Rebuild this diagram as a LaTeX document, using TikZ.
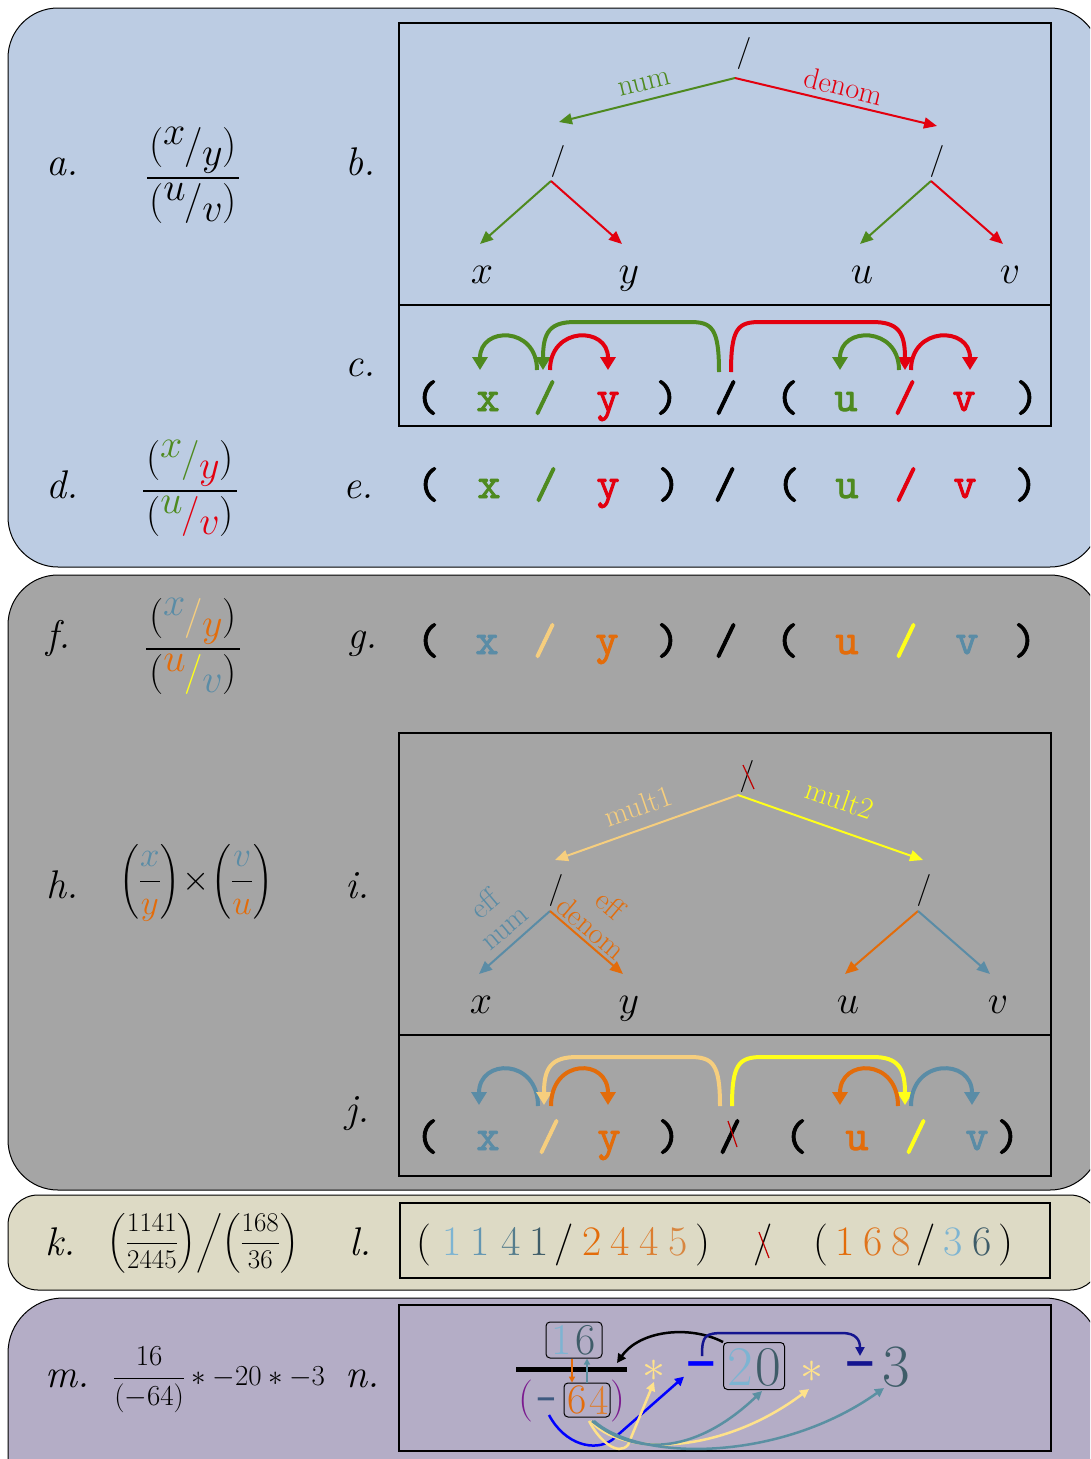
\documentclass[tikz,border=0pt]{standalone}
\usepackage{fix-cm}
\usepackage{amsmath}
\usepackage{fontspec}
\newfontfamily\tokfont{lmmono10-regular.otf}[FakeBold=2]
\newfontfamily\dvfont{DejaVu Sans}
\usetikzlibrary{arrows.meta}
\newcommand\FS[1]{\fontsize{#1}{#1}\selectfont}
\newcommand\NF[3]{\raisebox{.32em}{#1}\kern-.02em#2\kern-.02em\raisebox{-.2em}{#3}}
\definecolor{pblue}{HTML}{BCCCE3}
\definecolor{pgray}{HTML}{A5A5A5}
\definecolor{pbeige}{HTML}{DDDAC5}
\definecolor{plav}{HTML}{B4ADC6}
\definecolor{cgreen}{HTML}{4E8A1F}
\definecolor{cred}{HTML}{E3000F}
\definecolor{cdred}{HTML}{C00000}
\definecolor{cblue}{HTML}{5A8CA6}
\definecolor{clor}{HTML}{F6CE7E}
\definecolor{cor}{HTML}{E36C0A}
\definecolor{cor2}{HTML}{E0741C}
\definecolor{cor3}{HTML}{DC7E30}
\definecolor{cor4}{HTML}{D88640}
\definecolor{cyel}{HTML}{FFFF1A}
\definecolor{clb}{HTML}{7DB4D2}
\definecolor{cmb}{HTML}{6396B2}
\definecolor{csb}{HTML}{557D8D}
\definecolor{cslate}{HTML}{3E5C68}
\definecolor{cpurp}{HTML}{7B1B8F}
\definecolor{cnavy}{HTML}{14148F}
\definecolor{cpyel}{HTML}{FFE28A}
\definecolor{cteal}{HTML}{5A90A2}
\definecolor{cdash}{HTML}{3E5A80}
\begin{document}
\begin{tikzpicture}[x=1pt,y=-1pt,
  panel/.style={draw=black,line width=1pt,rounded corners=50pt},
  ibox/.style={draw=black,line width=1.6pt},
  lab/.style={font=\FS{40}\itshape,anchor=base,inner sep=0pt},
  fm/.style={font=\FS{40},anchor=base,inner sep=0pt},
  tok/.style={font=\FS{44}\tokfont,anchor=base,inner sep=0pt},
  sl/.style={font=\FS{32},inner sep=0pt},
  leaf/.style={font=\FS{40},anchor=base,inner sep=0pt},
  elab/.style={font=\FS{30},inner sep=0pt},
  tar/.style={line width=2pt,-{Triangle[length=13pt,width=11pt]}},
  arcar/.style={line width=4pt,-{Triangle[length=13pt,width=15pt]}},
  ldig/.style={font=\FS{42},anchor=base,inner sep=0pt},
  nbox/.style={draw=black,rounded corners=4pt,line width=1pt,inner sep=0pt},
  nar/.style={line width=2.5pt,-{Triangle[length=9pt,width=9pt]}},
  sar/.style={line width=1.5pt,-{Triangle[length=6pt,width=6pt]}}]
\useasboundingbox (0,0) rectangle (1090,1459);
\clip (0,0) rectangle (1090,1459);
\fill[white] (0,0) rectangle (1090,1459);

% ================= Panel 1 =================
\draw[panel,fill=pblue] (8,8) rectangle (1100,567);
\draw[ibox] (399,23) rectangle (1051,305);
\draw[ibox] (399,305) rectangle (1051,426);
\node[lab] (la) at (62,175) {a.};
\node[lab] (lb) at (360,175) {b.};
\node[lab] (lc) at (360,376) {c.};
\node[lab] (ld) at (62,498) {d.};
\node[lab] (le) at (358,498) {e.};

% formula a
\node[fm] (anum) at (193,157) {(\NF{$x$}{/}{$y$})};
\draw[line width=2pt] (147,178) -- (239,178);
\node[fm] (aden) at (193,213) {(\NF{$u$}{/}{$v$})};

% tree b
\node[sl] (broot) at (744,53) {/};
\coordinate (bj) at (735,78);
\coordinate (bl) at (559,122);
\coordinate (br) at (937,126);
\draw[tar,cgreen] (bj) -- (bl);
\draw[tar,cred] (bj) -- (br);
\node[elab,text=cgreen,rotate=14] (bnum) at (645,84) {num};
\node[elab,text=cred,rotate=-14] (bden) at (844,86) {denom};
\node[sl] (bm1) at (558,161) {/};
\node[sl] (bm2) at (937,161) {/};
\coordinate (bj1) at (551,181);
\coordinate (bj2) at (931,181);
\coordinate (bt1) at (480,244);
\coordinate (bt2) at (622,244);
\coordinate (bt3) at (860,244);
\coordinate (bt4) at (1003,244);
\draw[tar,cgreen] (bj1) -- (bt1);
\draw[tar,cred] (bj1) -- (bt2);
\draw[tar,cgreen] (bj2) -- (bt3);
\draw[tar,cred] (bj2) -- (bt4);
\node[leaf] (bx) at (482,283) {$x$};
\node[leaf] (by) at (629,283) {$y$};
\node[leaf] (bu) at (862,283) {$u$};
\node[leaf] (bv) at (1010,283) {$v$};

% row c
\node[tok] (c1) at (427,411) {(};
\node[tok,text=cgreen] (c2) at (488,411) {x};
\node[tok,text=cgreen] (c3) at (545,411) {/};
\node[tok,text=cred] (c4) at (608,411) {y};
\node[tok] (c5) at (667,411) {)};
\node[tok] (c6) at (726,411) {/};
\node[tok] (c7) at (787,411) {(};
\node[tok,text=cgreen] (c8) at (846,411) {u};
\node[tok,text=cred] (c9) at (905,411) {/};
\node[tok,text=cred] (c10) at (964,411) {v};
\node[tok] (c11) at (1027,411) {)};
\draw[arcar,cgreen] (537,370) .. controls (537,326) and (480,326) .. (480,370);
\draw[arcar,cgreen] (719,372) .. controls (719,328) and (712,322) .. (690,322) -- (575,322) .. controls (550,322) and (543,332) .. (543,370);
\draw[arcar,cred] (550,370) .. controls (550,326) and (608,326) .. (608,370);
\draw[arcar,cred] (731,372) .. controls (731,328) and (738,322) .. (760,322) -- (872,322) .. controls (898,322) and (905,332) .. (905,370);
\draw[arcar,cgreen] (899,370) .. controls (899,326) and (840,326) .. (840,370);
\draw[arcar,cred] (911,370) .. controls (911,326) and (970,326) .. (970,370);

% formula d
\node[fm] (dnum) at (190,470) {(\NF{\textcolor{cgreen}{$x$}}{\textcolor{cgreen}{/}}{\textcolor{cred}{$y$}})};
\draw[line width=2pt] (143,491) -- (237,491);
\node[fm] (dden) at (190,526) {(\NF{\textcolor{cgreen}{$u$}}{\textcolor{cred}{/}}{\textcolor{cred}{$v$}})};

% row e
\node[tok] (e1) at (428,498) {(};
\node[tok,text=cgreen] (e2) at (489,498) {x};
\node[tok,text=cgreen] (e3) at (546,498) {/};
\node[tok,text=cred] (e4) at (608,498) {y};
\node[tok] (e5) at (669,498) {)};
\node[tok] (e6) at (725,498) {/};
\node[tok] (e7) at (788,498) {(};
\node[tok,text=cgreen] (e8) at (847,498) {u};
\node[tok,text=cred] (e9) at (906,498) {/};
\node[tok,text=cred] (e10) at (965,498) {v};
\node[tok] (e11) at (1026,498) {)};

% ================= Panel 2 =================
\draw[panel,fill=pgray] (8,575) rectangle (1100,1190);
\draw[ibox] (399,733) rectangle (1051,1035);
\draw[ibox] (399,1035) rectangle (1051,1176);
\node[lab] (lf) at (58,648) {f.};
\node[lab] (lg) at (362,648) {g.};
\node[lab] (lh) at (62,898) {h.};
\node[lab] (li) at (357,898) {i.};
\node[lab] (lj) at (357,1122) {j.};

% formula f
\node[fm] (fnum) at (193,628) {(\NF{\textcolor{cblue}{$x$}}{\textcolor{clor}{/}}{\textcolor{cor}{$y$}})};
\draw[line width=2pt] (146,649) -- (240,649);
\node[fm] (fden) at (193,684) {(\NF{\textcolor{cor}{$u$}}{\textcolor{cyel}{/}}{\textcolor{cblue}{$v$}})};

% row g
\node[tok] (g1) at (428,654) {(};
\node[tok,text=cblue] (g2) at (487,654) {x};
\node[tok,text=clor] (g3) at (545,654) {/};
\node[tok,text=cor] (g4) at (607,654) {y};
\node[tok] (g5) at (668,654) {)};
\node[tok] (g6) at (726,654) {/};
\node[tok] (g7) at (787,654) {(};
\node[tok,text=cor] (g8) at (847,654) {u};
\node[tok,text=cyel] (g9) at (906,654) {/};
\node[tok,text=cblue] (g10) at (967,654) {v};
\node[tok] (g11) at (1025,654) {)};

% formula h
\node[font=\FS{35},inner sep=0pt] (hform) at (196,883) {$\left(\dfrac{\color{cblue}x}{\color{cor}y}\right)\!\times\!\left(\dfrac{\color{cblue}v}{\color{cor}u}\right)$};

% tree i
\node[sl] (iroot) at (747,776) {/};
\draw[cdred,line width=1.2pt] (743,765) -- (754,789);
\coordinate (ij) at (738,795);
\coordinate (il) at (555,860);
\coordinate (ir) at (923,860);
\draw[tar,clor] (ij) -- (il);
\draw[tar,cyel] (ij) -- (ir);
\node[elab,text=clor,rotate=19] (imul1) at (638,806) {mult1};
\node[elab,text=cyel,rotate=-19] (imul2) at (840,799) {mult2};
\node[sl] (im1) at (556,890) {/};
\node[sl] (im2) at (924,890) {/};
\coordinate (ij1) at (550,911);
\coordinate (ij2) at (918,911);
\coordinate (it1) at (479,974);
\coordinate (it2) at (623,974);
\coordinate (it3) at (845,974);
\coordinate (it4) at (990,974);
\draw[tar,cblue] (ij1) -- (it1);
\draw[tar,cor] (ij1) -- (it2);
\draw[tar,cor] (ij2) -- (it3);
\draw[tar,cblue] (ij2) -- (it4);
\node[elab,text=cblue,rotate=40,align=center] (ieffn) at (494,915) {eff\\num};
\node[elab,text=cor,rotate=-40,align=center] (ieffd) at (601,916) {eff\\denom};
\node[leaf] (ix) at (481,1013) {$x$};
\node[leaf] (iy) at (629,1013) {$y$};
\node[leaf] (iu) at (848,1013) {$u$};
\node[leaf] (iv) at (998,1013) {$v$};

% row j
\node[tok] (j1) at (427,1150) {(};
\node[tok,text=cblue] (j2) at (488,1150) {x};
\node[tok,text=clor] (j3) at (549,1150) {/};
\node[tok,text=cor] (j4) at (609,1150) {y};
\node[tok] (j5) at (669,1150) {)};
\node[tok] (j6) at (730,1150) {/};
\draw[cdred,line width=1.2pt] (728,1121) -- (737,1147);
\node[tok] (j7) at (796,1150) {(};
\node[tok,text=cor] (j8) at (857,1150) {u};
\node[tok,text=cyel] (j9) at (916,1150) {/};
\node[tok,text=cblue] (j10) at (977,1150) {v};
\node[tok] (j11) at (1008,1150) {)};
\draw[arcar,cblue] (538,1106) .. controls (538,1058) and (479,1058) .. (479,1105);
\draw[arcar,clor] (720,1106) .. controls (720,1064) and (713,1057) .. (690,1057) -- (577,1057) .. controls (551,1057) and (544,1068) .. (544,1105);
\draw[arcar,cor] (551,1106) .. controls (551,1058) and (608,1058) .. (608,1105);
\draw[arcar,cyel] (732,1106) .. controls (732,1064) and (739,1057) .. (762,1057) -- (873,1057) .. controls (898,1057) and (905,1068) .. (905,1105);
\draw[arcar,cor] (898,1106) .. controls (898,1058) and (840,1058) .. (840,1105);
\draw[arcar,cblue] (911,1106) .. controls (911,1058) and (972,1058) .. (972,1105);

% ================= Panel 3 =================
\draw[panel,rounded corners=30pt,fill=pbeige] (8,1195) rectangle (1100,1290);
\draw[ibox] (400,1203) rectangle (1050,1278);
\node[lab] (lk) at (60,1255) {k.};
\node[lab] (ll) at (360,1255) {l.};
\node[font=\FS{27},inner sep=0pt] (kform) at (203,1243) {$\left.\left(\dfrac{1141}{2445}\right)\middle/\left(\dfrac{168}{36}\right)\right.$};
\node[ldig] (l1) at (424,1255) {(};
\node[ldig,text=clb] (l2) at (452,1255) {1};
\node[ldig,text=cmb] (l3) at (480,1255) {1};
\node[ldig,text=csb] (l4) at (511,1255) {4};
\node[ldig,text=cslate] (l5) at (539,1255) {1};
\node[ldig] (l6) at (564,1255) {/};
\node[ldig,text=cor] (l7) at (592,1255) {2};
\node[ldig,text=cor2] (l8) at (620,1255) {4};
\node[ldig,text=cor3] (l9) at (649,1255) {4};
\node[ldig,text=cor4] (l10) at (678,1255) {5};
\node[ldig] (l11) at (703,1255) {)};
\node[ldig] (l12) at (763,1255) {/};
\draw[cdred,line width=1.2pt] (759,1232) -- (769,1258);
\node[ldig] (l13) at (821,1255) {(};
\node[ldig,text=cor] (l14) at (845,1255) {1};
\node[ldig,text=cor2] (l15) at (873,1255) {6};
\node[ldig,text=cor3] (l16) at (901,1255) {8};
\node[ldig] (l17) at (926,1255) {/};
\node[ldig,text=clb] (l18) at (953,1255) {3};
\node[ldig,text=cslate] (l19) at (982,1255) {6};
\node[ldig] (l20) at (1006,1255) {)};

% ================= Panel 4 =================
\draw[panel,rounded corners=55pt,fill=plav] (8,1298) rectangle (1100,1530);
\draw[ibox] (399,1305) rectangle (1051,1451);
\node[lab] (lm) at (67,1387) {m.};
\node[lab] (ln) at (362,1387) {n.};
\node[font=\FS{29},inner sep=0pt] (mform) at (219,1380) {$\dfrac{16}{(-64)}\ast-20\ast-3$};

\draw[line width=5pt] (516,1369) coordinate (fbl) -- (627,1369) coordinate (fbr);
\node[nbox,minimum width=56pt,minimum height=36pt] (b16) at (574,1340) {};
\node[font=\FS{44},text=clb,inner sep=0pt] (n1) at (562,1340) {1};
\node[font=\FS{44},text=cslate,inner sep=0pt] (n6) at (586,1340) {6};
\node[font=\FS{42},text=cpurp,inner sep=0pt] (npl) at (526,1401) {(};
\node[font=\FS{26}\dvfont\bfseries,text=cdash,inner sep=0pt] (nm0) at (546,1403) {−};
\node[nbox,minimum width=46pt,minimum height=34pt] (b64) at (587,1400) {};
\node[font=\FS{42},text=cor,inner sep=0pt] (n64a) at (577,1400) {6};
\node[font=\FS{42},text=cor3,inner sep=0pt] (n64b) at (599,1400) {4};
\node[font=\FS{42},text=cpurp,inner sep=0pt] (npr) at (618,1401) {)};
\node[font=\FS{46},text=cpyel,inner sep=0pt] (ast1) at (654,1371) {$\ast$};
\node[font=\FS{40}\dvfont\bfseries,text=blue,inner sep=0pt] (nm1) at (701,1369) {−};
\node[nbox,minimum width=61pt,minimum height=47pt] (b20) at (754,1366) {};
\node[font=\FS{56},text=clb,inner sep=0pt] (n2) at (740,1367) {2};
\node[font=\FS{56},text=cslate,inner sep=0pt] (n0) at (768,1367) {0};
\node[font=\FS{46},text=cpyel,inner sep=0pt] (ast2) at (812,1372) {$\ast$};
\node[font=\FS{40}\dvfont\bfseries,text=cnavy,inner sep=0pt] (nm2) at (860,1369) {−};
\node[font=\FS{60},text=cslate,inner sep=0pt] (n3) at (896,1367) {3};

\draw[sar,cor] (b16.south -| 572,0) -- (b64.north -| 572,0);
\draw[sar,cteal] (b64.north -| 587,0) -- (b16.south -| 587,0);
\draw[line width=2.5pt,-{Triangle[length=9pt,width=9pt]}] (b20.north west) .. controls (690,1325) and (640,1330) .. (617,1363);
\draw[nar,cnavy] (702,1356) .. controls (702,1335) and (705,1333) .. (725,1333) -- (842,1333) .. controls (856,1333) and (860,1340) .. (860,1356);
\draw[nar,blue] (549,1415) .. controls (565,1445) and (595,1452) .. (612,1440) -- (nm1.south west);
\draw[nar,cpyel] (589,1421) .. controls (600,1442) and (618,1456) .. (628,1445) -- (ast1.south);
\draw[nar,cpyel] (591,1421) .. controls (620,1456) and (720,1456) .. (809,1389);
\draw[nar,cteal] (592,1421) .. controls (640,1460) and (700,1450) .. (762,1391);
\draw[nar,cteal] (594,1421) .. controls (640,1462) and (780,1462) .. (884,1388);
\end{tikzpicture}
\end{document}
